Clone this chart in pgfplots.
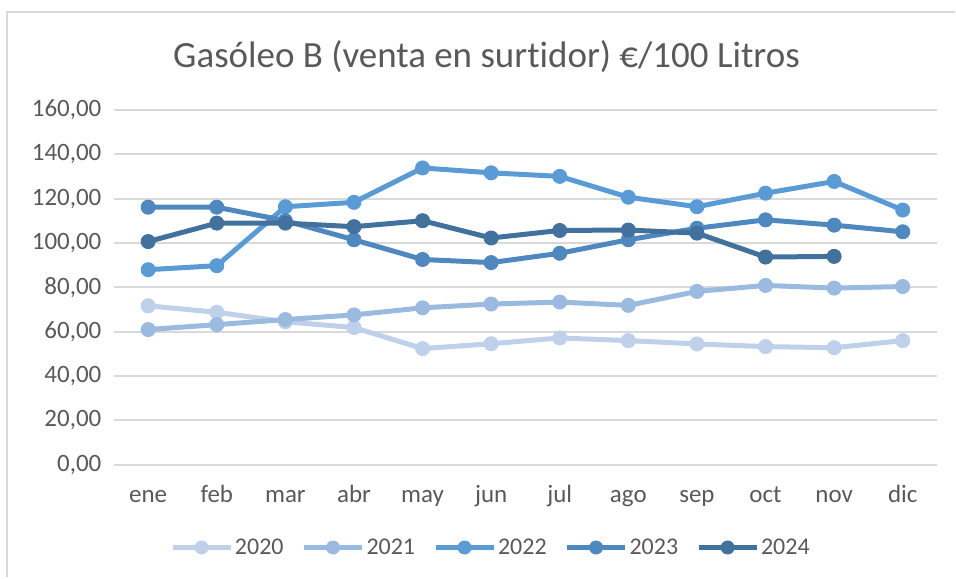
\documentclass[border=0pt]{standalone}
\usepackage{fontspec}
\setmainfont{Carlito}[Ligatures=NoCommon, RawFeature={-liga;-clig;-calt;-dlig}]
\usepackage{pgfplots}
\pgfplotsset{compat=1.18}
\definecolor{cA}{RGB}{190,208,234}
\definecolor{cB}{RGB}{155,186,224}
\definecolor{cC}{RGB}{91,155,213}
\definecolor{cD}{RGB}{78,136,190}
\definecolor{cE}{RGB}{65,113,156}
\definecolor{txt}{RGB}{89,89,89}
\definecolor{grd}{RGB}{217,217,217}
\begin{document}
\begin{tikzpicture}[x=1pt,y=1pt]
\path (0,0) rectangle (956,578);
\draw[grd, line width=2pt] (7,0) -- (7,566) -- (956,566);
\node[txt, font=\fontsize{37}{44}\selectfont] at (487,521) {Gasóleo B (venta en surt\kern0pt idor) €/100 Litros};
\begin{axis}[
  at={(114pt,113pt)}, anchor=south west,
  scale only axis, width=824pt, height=355pt,
  xmin=-0.5, xmax=11.5, ymin=0, ymax=160,
  xtick={0,...,11},
  xticklabels={ene,feb,mar,abr,may,jun,jul,ago,sep,oct,nov,dic},
  ytick={0,20,...,160},
  axis line style={draw=none},
  tick style={draw=none},
  ymajorgrids, grid style={grd, line width=2pt},
  /pgf/number format/.cd, fixed, fixed zerofill, precision=2, use comma, 1000 sep={}, assume math mode=true,
  /pgfplots/.cd,
  tick label style={txt, font=\fontsize{25}{30}\selectfont},
  yticklabel style={anchor=east, xshift=-9pt},
  xticklabel style={anchor=base, yshift=-38pt},
  every axis plot/.append style={line width=5pt, mark=*, mark size=7pt},
  legend columns=5,
  legend style={at={(0.458,-0.234)}, anchor=center, draw=none, fill=none,
    font=\fontsize{24}{28}\selectfont, text=txt,
    /tikz/every even column/.append style={column sep=16pt}},
  legend image code/.code={
    \draw[#1, mark repeat=2, mark phase=2, mark size=6.5pt] plot coordinates {(0pt,0pt) (29pt,0pt) (58pt,0pt)};
  },
]
\addplot[cA, mark options={fill=cA, draw=cA, line width=1pt}] coordinates {(0,71.6)(1,68.7)(2,64.4)(3,61.8)(4,52.3)(5,54.5)(6,57.1)(7,55.9)(8,54.4)(9,53.2)(10,52.7)(11,55.9)};
\addlegendentry{2020}
\addplot[cB, mark options={fill=cB, draw=cB, line width=1pt}] coordinates {(0,60.9)(1,63.1)(2,65.4)(3,67.5)(4,70.7)(5,72.4)(6,73.3)(7,71.8)(8,78.1)(9,80.8)(10,79.6)(11,80.3)};
\addlegendentry{2021}
\addplot[cC, mark options={fill=cC, draw=cC, line width=1pt}] coordinates {(0,87.9)(1,89.7)(2,116.3)(3,118.3)(4,133.8)(5,131.6)(6,130.0)(7,120.6)(8,116.3)(9,122.4)(10,127.7)(11,114.8)};
\addlegendentry{2022}
\addplot[cD, mark options={fill=cD, draw=cD, line width=1pt}] coordinates {(0,116.1)(1,116.1)(2,110.0)(3,101.4)(4,92.5)(5,91.1)(6,95.3)(7,101.4)(8,106.6)(9,110.4)(10,108.0)(11,105.0)};
\addlegendentry{2023}
\addplot[cE, mark options={fill=cE, draw=cE, line width=1pt}] coordinates {(0,100.6)(1,108.9)(2,108.9)(3,107.3)(4,110.0)(5,102.2)(6,105.6)(7,105.8)(8,104.4)(9,93.6)(10,93.9)};
\addlegendentry{2024}
\end{axis}
\end{tikzpicture}
\end{document}
